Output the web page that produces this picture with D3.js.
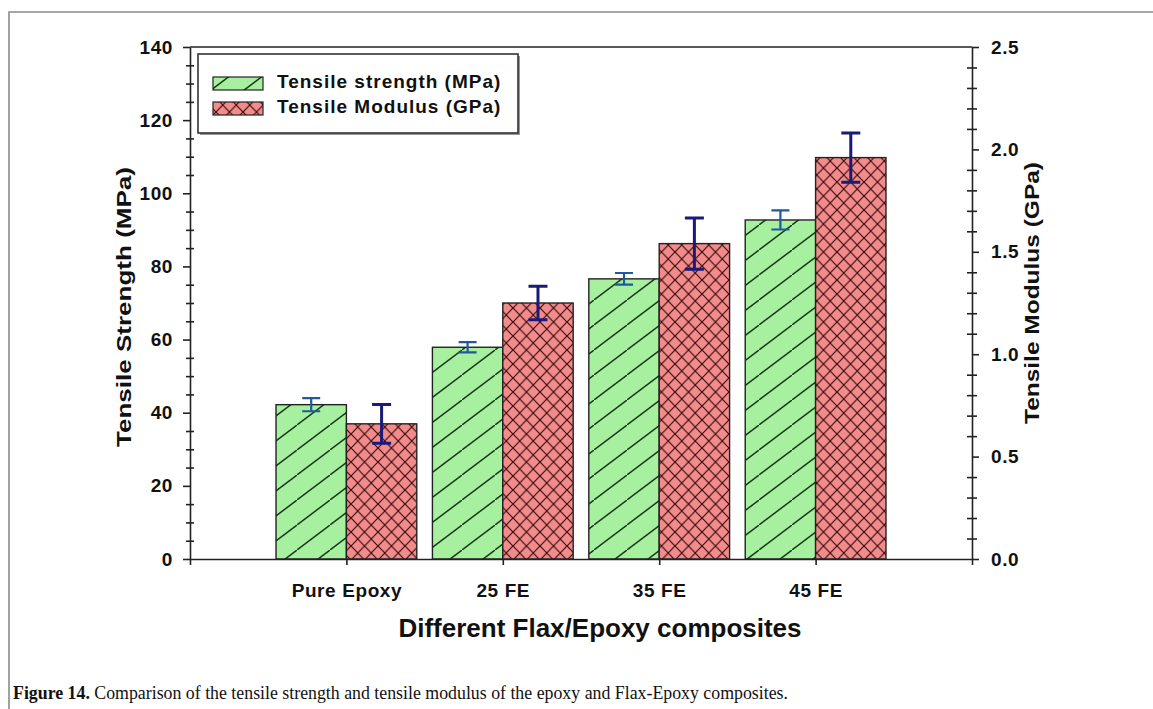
<!DOCTYPE html>
<html>
<head>
<meta charset="utf-8">
<script src="https://cdn.jsdelivr.net/npm/d3@7"></script>
<style>
  html, body { margin: 0; padding: 0; background: #fff; }
  svg { display: block; }
  .lbl { font-family: "Liberation Sans", Arial, sans-serif; font-weight: bold; fill: #111; }
</style>
</head>
<body>
<svg id="chart" width="1153" height="709"></svg>
<script>
// Tensile properties of neat epoxy and flax/epoxy laminates
const categories = ["Pure Epoxy", "25 FE", "35 FE", "45 FE"];
const strength = [42.2, 57.9, 76.6, 92.7];        // MPa
const strengthErr = [1.8, 1.4, 1.6, 2.6];
const modulus = [0.66, 1.25, 1.54, 1.96];         // GPa
const modulusErr = [0.095, 0.082, 0.125, 0.12];
const strengthTicks = [0, 20, 40, 60, 80, 100, 120, 140];
const modulusTicks = [0.0, 0.5, 1.0, 1.5, 2.0, 2.5];
const seriesNames = ["Tensile strength (MPa)", "Tensile Modulus (GPa)"];

const svg = d3.select("#chart");

const plotLeft = 190, plotRight = 972, plotTop = 47, plotBottom = 559;
const x = d3.scaleLinear().domain([0, categories.length + 1]).range([plotLeft, plotRight]);
const yL = d3.scaleLinear().domain([0, 140]).range([plotBottom, plotTop]);
const yR = d3.scaleLinear().domain([0, 2.5]).range([plotBottom, plotTop]);
const barW = 0.45; // in category units

// hatch patterns
const defs = svg.append("defs");
const hw = 33, hh = 25;
const hatch = defs.append("pattern").attr("id", "hatchGreen")
  .attr("patternUnits", "userSpaceOnUse").attr("width", hw).attr("height", hh);
hatch.append("rect").attr("width", hw).attr("height", hh).attr("fill", "#a6f0a0");
hatch.append("line").attr("x1", -1).attr("y1", hh + hh / hw).attr("x2", hw + 1).attr("y2", -hh / hw)
  .attr("stroke", "#173617").attr("stroke-width", 1.4);

const cross = defs.append("pattern").attr("id", "hatchRed")
  .attr("patternUnits", "userSpaceOnUse").attr("width", 13.5).attr("height", 14);
cross.append("rect").attr("width", 13.5).attr("height", 14).attr("fill", "#f28b8b");
cross.append("path").attr("d", "M-1,-1.04L14.5,15.04M-1,15.04L14.5,-1.04")
  .attr("stroke", "#3a0c0c").attr("stroke-width", 1.2).attr("fill", "none");

// outer figure frame
svg.append("path").attr("d", "M9,709V12H1153")
  .attr("fill", "none").attr("stroke", "#8a8a8a").attr("stroke-width", 1.6);

// bars
const g = svg.append("g");
g.selectAll("rect.s").data(strength).join("rect").attr("class", "s")
  .attr("x", (d, i) => x(i + 1 - barW)).attr("width", (d, i) => x(i + 1) - x(i + 1 - barW))
  .attr("y", d => yL(d)).attr("height", d => yL(0) - yL(d))
  .attr("fill", "url(#hatchGreen)").attr("stroke", "#222").attr("stroke-width", 1.4);
g.selectAll("rect.m").data(modulus).join("rect").attr("class", "m")
  .attr("x", (d, i) => x(i + 1)).attr("width", (d, i) => x(i + 1 + barW) - x(i + 1))
  .attr("y", d => yR(d)).attr("height", d => yR(0) - yR(d))
  .attr("fill", "url(#hatchRed)").attr("stroke", "#222").attr("stroke-width", 1.4);

// error bars
function errorBars(vals, errs, scale, cx, color, w, capW) {
  const eg = svg.append("g").attr("stroke", color).attr("stroke-width", w).attr("fill", "none");
  vals.forEach((v, i) => {
    const xc = cx(i);
    const y1 = scale(v + errs[i]), y2 = scale(v - errs[i]);
    eg.append("path").attr("d",
      `M${xc},${y1}V${y2}M${xc - capW / 2},${y1}H${xc + capW / 2}M${xc - capW / 2},${y2}H${xc + capW / 2}`);
  });
}
errorBars(strength, strengthErr, yL, i => x(i + 1 - barW / 2), "#1f5a9e", 2.2, 18);
errorBars(modulus, modulusErr, yR, i => x(i + 1 + barW / 2), "#1a1a78", 3, 19);

// top frame line of the plot
svg.append("line").attr("x1", plotLeft).attr("x2", plotRight).attr("y1", plotTop).attr("y2", plotTop)
  .attr("stroke", "#222").attr("stroke-width", 1.6);

function styleAxis(sel) {
  sel.selectAll(".domain").attr("stroke", "#222").attr("stroke-width", 1.6);
  sel.selectAll(".tick line").attr("stroke", "#222").attr("stroke-width", 1.6);
  sel.selectAll("text").attr("class", "lbl").attr("font-size", 19)
    .attr("letter-spacing", 0.6).attr("fill", "#111");
}

// left axis: minor ticks every 5 crossing the line, major every 20 outward
const minorL = d3.range(0, 141, 5).filter(v => v % 20 !== 0);
svg.append("g").attr("transform", `translate(${plotLeft},0)`)
  .call(d3.axisLeft(yL).tickValues(minorL).tickSize(4).tickFormat(""))
  .call(s => s.select(".domain").remove()).call(styleAxis);
svg.append("g").attr("transform", `translate(${plotLeft},0)`)
  .call(d3.axisRight(yL).tickValues(minorL).tickSize(4).tickFormat(""))
  .call(s => s.select(".domain").remove()).call(styleAxis);
svg.append("g").attr("transform", `translate(${plotLeft},0)`)
  .call(d3.axisLeft(yL).tickValues(strengthTicks).tickSize(7).tickSizeOuter(0).tickPadding(10).tickFormat(d3.format("d")))
  .call(styleAxis);

// right axis
const minorR = d3.range(1, 25).filter(v => v % 5 !== 0).map(v => v / 10);
svg.append("g").attr("transform", `translate(${plotRight},0)`)
  .call(d3.axisLeft(yR).tickValues(minorR).tickSize(5).tickFormat(""))
  .call(s => s.select(".domain").remove()).call(styleAxis);
svg.append("g").attr("transform", `translate(${plotRight},0)`)
  .call(d3.axisRight(yR).tickValues(minorR).tickSize(5).tickFormat(""))
  .call(s => s.select(".domain").remove()).call(styleAxis);
svg.append("g").attr("transform", `translate(${plotRight},0)`)
  .call(d3.axisRight(yR).tickValues(modulusTicks).tickSize(7).tickSizeOuter(0).tickPadding(12).tickFormat(d3.format(".1f")))
  .call(styleAxis);

// bottom axis
const xAxis = svg.append("g").attr("transform", `translate(0,${plotBottom})`)
  .call(d3.axisBottom(x).tickValues(d3.range(0, categories.length + 2)).tickSize(6).tickSizeOuter(0)
    .tickFormat(d => (d >= 1 && d <= categories.length) ? categories[d - 1] : ""))
  .call(styleAxis);
xAxis.selectAll("text").attr("y", 38).attr("dy", null);

// axis titles
svg.append("text").attr("class", "lbl").attr("font-size", 26)
  .attr("x", 600).attr("y", 637).attr("text-anchor", "middle")
  .text("Different Flax/Epoxy composites");

svg.append("text").attr("class", "lbl").attr("font-size", 20)
  .attr("text-anchor", "middle")
  .attr("transform", "translate(131,307) rotate(-90)")
  .attr("textLength", 280).attr("lengthAdjust", "spacingAndGlyphs")
  .text("Tensile Strength (MPa)");

svg.append("text").attr("class", "lbl").attr("font-size", 20)
  .attr("text-anchor", "middle")
  .attr("transform", "translate(1039,293) rotate(-90)")
  .attr("textLength", 262).attr("lengthAdjust", "spacingAndGlyphs")
  .text("Tensile Modulus (GPa)");

// legend
const lg = svg.append("g");
lg.append("rect").attr("x", 200).attr("y", 56).attr("width", 320).attr("height", 79)
  .attr("fill", "#999");
lg.append("rect").attr("x", 198).attr("y", 54).attr("width", 320).attr("height", 79)
  .attr("fill", "#fff").attr("stroke", "#333").attr("stroke-width", 1.6);
const fills = ["url(#hatchGreen)", "url(#hatchRed)"];
seriesNames.forEach((name, i) => {
  const yy = 77 + i * 25;
  lg.append("rect").attr("x", 213).attr("y", yy).attr("width", 50).attr("height", 13)
    .attr("fill", fills[i]).attr("stroke", "#222").attr("stroke-width", 1.2);
  lg.append("text").attr("class", "lbl").attr("font-size", 19).attr("letter-spacing", 1.0)
    .attr("x", 277).attr("y", yy + 11).text(name);
});

// caption
const caption = svg.append("text").attr("x", 13).attr("y", 699)
  .attr("font-family", "'Liberation Serif', 'Times New Roman', serif").attr("font-size", 18.5).attr("fill", "#111")
  .attr("textLength", 775).attr("lengthAdjust", "spacingAndGlyphs");
caption.append("tspan").attr("font-weight", "bold").text("Figure 14.");
caption.append("tspan").text(" Comparison of the tensile strength and tensile modulus of the epoxy and Flax-Epoxy composites.");
</script>
</body>
</html>
